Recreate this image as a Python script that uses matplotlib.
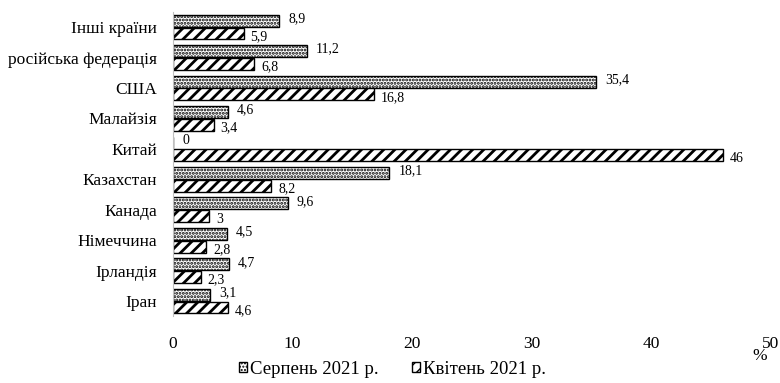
import matplotlib.pyplot as plt
import matplotlib.patches as mpatches
import numpy as np

plt.rcParams['font.family'] = ['Liberation Serif', 'DejaVu Serif']

countries = ["Інші країни", "російська федерація", "США", "Малайзія", "Китай",
             "Казахстан", "Канада", "Німеччина", "Ірландія", "Іран"]
aug_2021 = [8.9, 11.2, 35.4, 4.6, 0, 18.1, 9.6, 4.5, 4.7, 3.1]
apr_2021 = [5.9, 6.8, 16.8, 3.4, 46, 8.2, 3, 2.8, 2.3, 4.6]
series_names = ["Серпень 2021 р.", "Квітень 2021 р."]

DOT_LW = 1.4
STRIPE_LW = 2.0


def fmt(v):
    return ("%g" % v).replace(".", ",")


fig = plt.figure(figsize=(7.8, 3.83), dpi=100)
ax = fig.add_axes([0.2218, 0.174, 0.7667, 0.795])

y = np.arange(len(countries))
h = 0.39
with plt.rc_context({'hatch.linewidth': DOT_LW}):
    ax.barh(y - 0.21, aug_2021, height=h, color="white", edgecolor="black",
            hatch=".....", linewidth=1.0)
    dot_patch = mpatches.Patch(facecolor="white", edgecolor="black", hatch=".....")
with plt.rc_context({'hatch.linewidth': STRIPE_LW}):
    ax.barh(y + 0.21, apr_2021, height=h, color="white", edgecolor="black",
            hatch="///", linewidth=1.0)
    stripe_patch = mpatches.Patch(facecolor="white", edgecolor="black", hatch="///")

# value labels next to each bar end
for i in range(len(countries)):
    ax.annotate(fmt(aug_2021[i]), (aug_2021[i], y[i] - 0.21), xytext=(9, 2),
                textcoords="offset pixels", va="center", ha="left", fontsize=10)
    ax.annotate(fmt(apr_2021[i]), (apr_2021[i], y[i] + 0.21), xytext=(7, -3),
                textcoords="offset pixels", va="center", ha="left", fontsize=10)

ax.set_xlim(0, 50)
ax.set_ylim(len(countries) - 0.5, -0.5)
ax.set_yticks(y)
ax.set_yticklabels(countries, fontsize=12.5)
ax.set_xticks([0, 10, 20, 30, 40, 50])
ax.tick_params(axis="both", length=0)
ax.tick_params(axis="x", pad=14, labelsize=12.5)
ax.tick_params(axis="y", pad=11.5)
for side in ["top", "right", "bottom"]:
    ax.spines[side].set_visible(False)
ax.spines["left"].set_color("#bfbfbf")

fig.text(760 / 780, 1 - 356 / 383, "%", fontsize=12.5, ha="center", va="center")

fig.legend([dot_patch, stripe_patch], series_names, loc="center", ncol=2,
           frameon=False, bbox_to_anchor=(0.503, 1 - 369 / 383), fontsize=13.5,
           handlelength=0.45, handleheight=0.45, handletextpad=0.15,
           columnspacing=1.75)

fig.savefig("out.png", dpi=100)
